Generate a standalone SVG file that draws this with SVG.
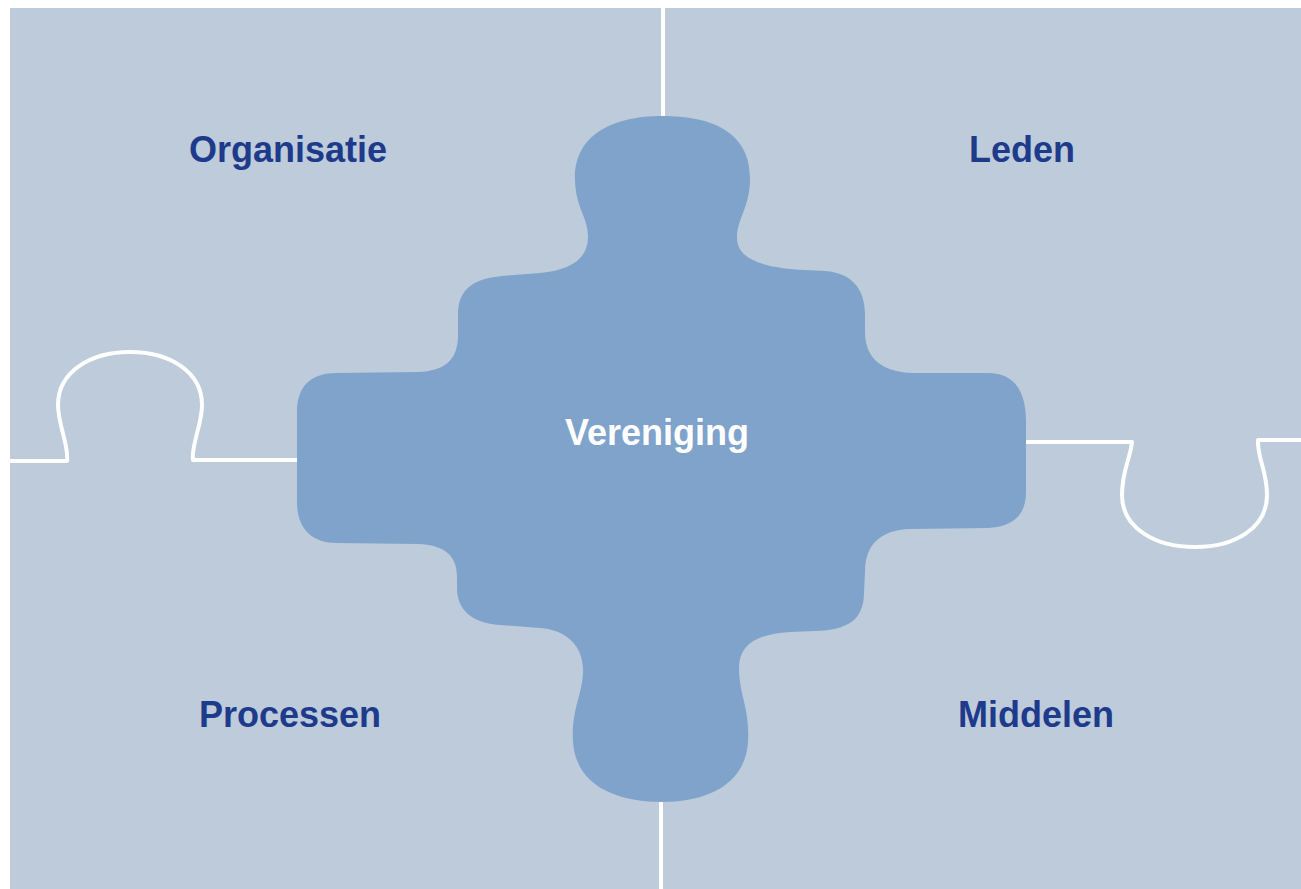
<svg xmlns="http://www.w3.org/2000/svg" width="1301" height="889" viewBox="0 0 1301 889">
  <style>
    .lbl { font-family: "Liberation Sans", Arial, Helvetica, sans-serif; font-weight: bold; font-size: 36px; text-anchor: middle; fill: #1e3a8a; }
    .center { fill: #ffffff; }
    .line { fill: none; stroke: #ffffff; stroke-width: 4; stroke-linejoin: round; }
  </style>
  <rect x="0" y="0" width="1301" height="889" fill="#ffffff"/>
  <rect id="background" x="10" y="8" width="1291" height="881" fill="#bdcbdb"/>
  <g id="connectors">
    <line class="line" x1="663" y1="8" x2="663" y2="118"/>
    <line class="line" x1="661" y1="800" x2="661" y2="889"/>
    <path class="line" d="M10,461 L67,461 C69,445 58,425 58,405 C58,372 90,352 130,352 C170,352 202,372 202,405 C202,425 191,445 193,460 L298,460"/>
    <path class="line" d="M1024,442 L1132,442 C1130,460 1122,470 1122,495 C1122,528 1155,547 1195,547 C1235,547 1267,528 1267,495 C1267,470 1257,458 1258,440 L1301,440"/>
  </g>
  <g id="node-vereniging">
    <path fill="#7fa3cb" d="M662,116 C712,116 750,132 750,178 C750,208 737,218 737,238 C737,260 765,268 805,270 L825,271 C853,273 865,290 865,315 L865,332 C865,358 882,372 912,373 L990,373 C1015,374 1026,392 1026,422 L1026,492 C1026,516 1012,527 988,528 L910,529 C880,530 865,545 865,572 L864,592 C864,620 848,630 815,631 L790,632 C755,634 739,646 739,668 C739,695 750,708 748,742 C745,786 705,802 662,802 C617,802 576,786 573,742 C571,708 584,692 583,668 C582,645 566,630 540,628 L500,625 C472,623 457,610 457,588 L457,577 C457,555 444,545 418,544 L337,543 C311,543 297,528 297,502 L297,412 C297,386 311,373 337,373 L418,372 C445,371 458,360 458,335 L458,315 C458,290 472,279 502,276 L540,273 C572,270 588,258 588,237 C588,216 575,208 575,178 C575,134 614,116 662,116 Z"/>
    <text class="lbl center" x="657" y="445">Vereniging</text>
  </g>
  <g id="node-organisatie">
    <text class="lbl" x="288" y="162">Organisatie</text>
  </g>
  <g id="node-leden">
    <text class="lbl" x="1022" y="162">Leden</text>
  </g>
  <g id="node-processen">
    <text class="lbl" x="290" y="727">Processen</text>
  </g>
  <g id="node-middelen">
    <text class="lbl" x="1036" y="727">Middelen</text>
  </g>
</svg>
